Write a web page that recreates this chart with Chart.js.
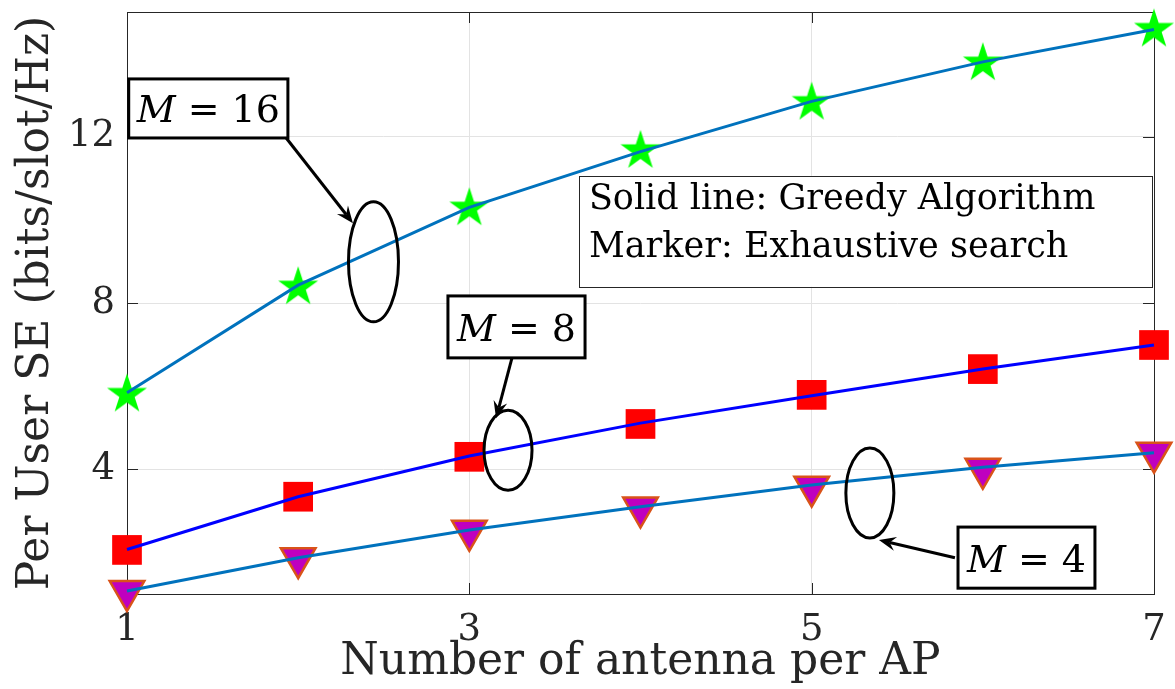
<!DOCTYPE html>
<html>
<head>
<meta charset="utf-8">
<script src="https://cdn.jsdelivr.net/npm/chart.js@4.4.1/dist/chart.umd.min.js"></script>
<style>
  html, body { margin: 0; padding: 0; background: #fff; }
  #wrap { width: 1175px; height: 689px; }
</style>
</head>
<body>
<div id="wrap"><canvas id="seChart" width="1175" height="689"></canvas></div>
<script>
const antennas = [1, 2, 3, 4, 5, 6, 7];
const xTicks = [1, 3, 5, 7];
const yTicks = [4, 8, 12];

// solid lines: greedy algorithm
const greedyM16 = [5.84, 8.43, 10.30, 11.64, 12.85, 13.80, 14.58];
const greedyM8 = [2.07, 3.34, 4.32, 5.11, 5.77, 6.41, 6.99];
const greedyM4 = [1.07, 1.87, 2.54, 3.10, 3.62, 4.05, 4.40];

// markers: exhaustive search
const exhaustiveM16 = [5.80, 8.38, 10.28, 11.66, 12.82, 13.77, 14.58];
const exhaustiveM8 = [2.06, 3.34, 4.30, 5.09, 5.79, 6.41, 6.99];
const exhaustiveM4 = [1.07, 1.86, 2.52, 3.08, 3.58, 4.01, 4.40];

const FONT = "'DejaVu Serif', serif";
const INK = "#262626";

function toPoints(ys) {
  return antennas.map((x, i) => ({ x: x, y: ys[i] }));
}

function starImage(R, color) {
  const size = Math.ceil(R * 2 + 4);
  const c = document.createElement("canvas");
  c.width = size;
  c.height = size;
  const g = c.getContext("2d");
  const cx = size / 2, cy = size / 2;
  g.beginPath();
  for (let i = 0; i < 10; i++) {
    const a = -Math.PI / 2 + i * Math.PI / 5;
    const rad = i % 2 ? R * 0.382 : R;
    g.lineTo(cx + rad * Math.cos(a), cy + rad * Math.sin(a));
  }
  g.closePath();
  g.fillStyle = color;
  g.fill();
  return c;
}

// annotation boxes, arrows and ellipses (in data units)
const notes = [
  { box: [1.01, 13.39, 1.94, 11.97], value: "16", arrow: [1.93, 11.97, 2.32, 9.92], ellipse: [2.44, 8.99, 25, 60] },
  { box: [2.875, 8.17, 3.676, 6.68], value: "8", arrow: [3.255, 6.77, 3.156, 5.23], ellipse: [3.226, 4.46, 24, 40] },
  { box: [5.855, 2.61, 6.655, 1.14], value: "4", arrow: [5.837, 1.87, 5.393, 2.30], ellipse: [5.34, 3.43, 24, 45] }
];
const legendBox = [3.64, 11.06, 6.99, 8.39];
const legendLines = ["Solid line: Greedy Algorithm", "Marker: Exhaustive search"];

const framePlugin = {
  id: "frame",
  beforeDatasetsDraw(chart) {
    const { ctx, chartArea: a, scales } = chart;
    ctx.save();
    ctx.strokeStyle = INK;
    ctx.lineWidth = 1;
    ctx.strokeRect(a.left + 0.5, a.top + 0.5, a.right - a.left, a.bottom - a.top);
    ctx.beginPath();
    xTicks.forEach(v => {
      const px = Math.round(scales.x.getPixelForValue(v)) + 0.5;
      ctx.moveTo(px, a.bottom); ctx.lineTo(px, a.bottom - 11);
      ctx.moveTo(px, a.top); ctx.lineTo(px, a.top + 11);
    });
    yTicks.forEach(v => {
      const py = Math.round(scales.y.getPixelForValue(v)) + 0.5;
      ctx.moveTo(a.left, py); ctx.lineTo(a.left + 11, py);
      ctx.moveTo(a.right, py); ctx.lineTo(a.right - 11, py);
    });
    ctx.stroke();
    ctx.restore();
  }
};

function drawArrow(ctx, x1, y1, x2, y2) {
  const ang = Math.atan2(y2 - y1, x2 - x1);
  const len = 17, half = 7, notch = 11;
  ctx.beginPath();
  ctx.moveTo(x1, y1);
  ctx.lineTo(x2 - Math.cos(ang) * notch, y2 - Math.sin(ang) * notch);
  ctx.stroke();
  ctx.beginPath();
  ctx.moveTo(x2, y2);
  ctx.lineTo(x2 - Math.cos(ang) * len - Math.sin(ang) * half, y2 - Math.sin(ang) * len + Math.cos(ang) * half);
  ctx.lineTo(x2 - Math.cos(ang) * notch, y2 - Math.sin(ang) * notch);
  ctx.lineTo(x2 - Math.cos(ang) * len + Math.sin(ang) * half, y2 - Math.sin(ang) * len - Math.cos(ang) * half);
  ctx.closePath();
  ctx.fill();
}

const notePlugin = {
  id: "notes",
  afterDatasetsDraw(chart) {
    const { ctx, scales } = chart;
    const X = v => scales.x.getPixelForValue(v);
    const Y = v => scales.y.getPixelForValue(v);
    ctx.save();
    ctx.strokeStyle = "#000";
    ctx.fillStyle = "#000";

    // legend-like text box
    const lx1 = X(legendBox[0]), ly1 = Y(legendBox[1]), lx2 = X(legendBox[2]), ly2 = Y(legendBox[3]);
    ctx.fillStyle = "#fff";
    ctx.fillRect(lx1, ly1, lx2 - lx1, ly2 - ly1);
    ctx.lineWidth = 1;
    ctx.strokeStyle = INK;
    ctx.strokeRect(Math.round(lx1) + 0.5, Math.round(ly1) + 0.5, Math.round(lx2 - lx1), Math.round(ly2 - ly1));
    ctx.fillStyle = "#000";
    ctx.font = "35px " + FONT;
    ctx.textBaseline = "alphabetic";
    ctx.textAlign = "left";
    ctx.fillText(legendLines[0], lx1 + 10, ly1 + 33);
    ctx.fillText(legendLines[1], lx1 + 10, ly1 + 81);

    ctx.strokeStyle = "#000";
    ctx.lineWidth = 3;
    notes.forEach(n => {
      const [ex, ey, rx, ry] = n.ellipse;
      ctx.beginPath();
      ctx.ellipse(X(ex), Y(ey), rx, ry, 0, 0, Math.PI * 2);
      ctx.stroke();

      const [a1, b1, a2, b2] = n.arrow;
      drawArrow(ctx, X(a1), Y(b1), X(a2), Y(b2));

      const x1 = X(n.box[0]), y1 = Y(n.box[1]), x2 = X(n.box[2]), y2 = Y(n.box[3]);
      ctx.fillStyle = "#fff";
      ctx.fillRect(x1, y1, x2 - x1, y2 - y1);
      ctx.strokeRect(x1, y1, x2 - x1, y2 - y1);
      ctx.fillStyle = "#000";
      const italic = "italic 38px " + FONT;
      const upright = "38px " + FONT;
      ctx.font = italic;
      const wM = ctx.measureText("M").width;
      ctx.font = upright;
      const rest = " = " + n.value;
      const wR = ctx.measureText(rest).width;
      const start = (x1 + x2) / 2 - (wM + wR) / 2;
      const base = (y1 + y2) / 2 + 14;
      ctx.font = italic;
      ctx.fillText("M", start, base);
      ctx.font = upright;
      ctx.fillText(rest, start + wM, base);
    });
    ctx.restore();
  }
};

const lineStyle = { showLine: true, pointRadius: 0, borderWidth: 3, fill: false, clip: false, order: 0 };
const markerStyle = { showLine: false, clip: false, order: 1 };

new Chart(document.getElementById("seChart").getContext("2d"), {
  type: "scatter",
  data: {
    datasets: [
      Object.assign({ label: "Greedy M=16", data: toPoints(greedyM16), borderColor: "#0072BD" }, lineStyle),
      Object.assign({ label: "Greedy M=8", data: toPoints(greedyM8), borderColor: "#0000FF" }, lineStyle),
      Object.assign({ label: "Greedy M=4", data: toPoints(greedyM4), borderColor: "#0072BD" }, lineStyle),
      Object.assign({
        label: "Exhaustive M=16", data: toPoints(exhaustiveM16),
        pointStyle: starImage(21, "#00FF00"), pointRadius: 20
      }, markerStyle),
      Object.assign({
        label: "Exhaustive M=8", data: toPoints(exhaustiveM8),
        pointStyle: "rect", pointRadius: 21, backgroundColor: "#FF0000", borderColor: "#FF0000", borderWidth: 0
      }, markerStyle),
      Object.assign({
        label: "Exhaustive M=4", data: toPoints(exhaustiveM4),
        pointStyle: "triangle", rotation: 180, pointRadius: 20,
        backgroundColor: "#BF00BF", borderColor: "#D95319", borderWidth: 2.5
      }, markerStyle)
    ]
  },
  options: {
    responsive: false,
    animation: false,
    layout: { autoPadding: false, padding: { top: 12, right: 21, left: 0, bottom: 0 } },
    plugins: { legend: { display: false }, tooltip: { enabled: false } },
    scales: {
      x: {
        type: "linear",
        min: 1,
        max: 7,
        afterBuildTicks: s => { s.ticks = xTicks.map(v => ({ value: v })); },
        afterFit: s => { s.height = 95; s.paddingLeft = 0; s.paddingRight = 0; },
        grid: { color: "#e3e3e3", drawTicks: false },
        border: { display: false },
        ticks: { color: INK, font: { family: FONT, size: 37 }, padding: 14 },
        title: {
          display: true,
          text: "Number of antenna per AP",
          color: INK,
          font: { family: FONT, size: 44 },
          padding: { top: 0, bottom: 0 }
        }
      },
      y: {
        type: "linear",
        min: 1,
        max: 15,
        afterBuildTicks: s => { s.ticks = yTicks.map(v => ({ value: v })); },
        afterFit: s => { s.width = 127; s.paddingTop = 0; s.paddingBottom = 0; },
        grid: { color: "#e3e3e3", drawTicks: false },
        border: { display: false },
        ticks: { color: INK, font: { family: FONT, size: 37 }, padding: 12 },
        title: {
          display: true,
          text: "Per User SE (bits/slot/Hz)",
          color: INK,
          font: { family: FONT, size: 44 },
          padding: { top: 10, bottom: 0 }
        }
      }
    }
  },
  plugins: [framePlugin, notePlugin]
});
</script>
</body>
</html>
